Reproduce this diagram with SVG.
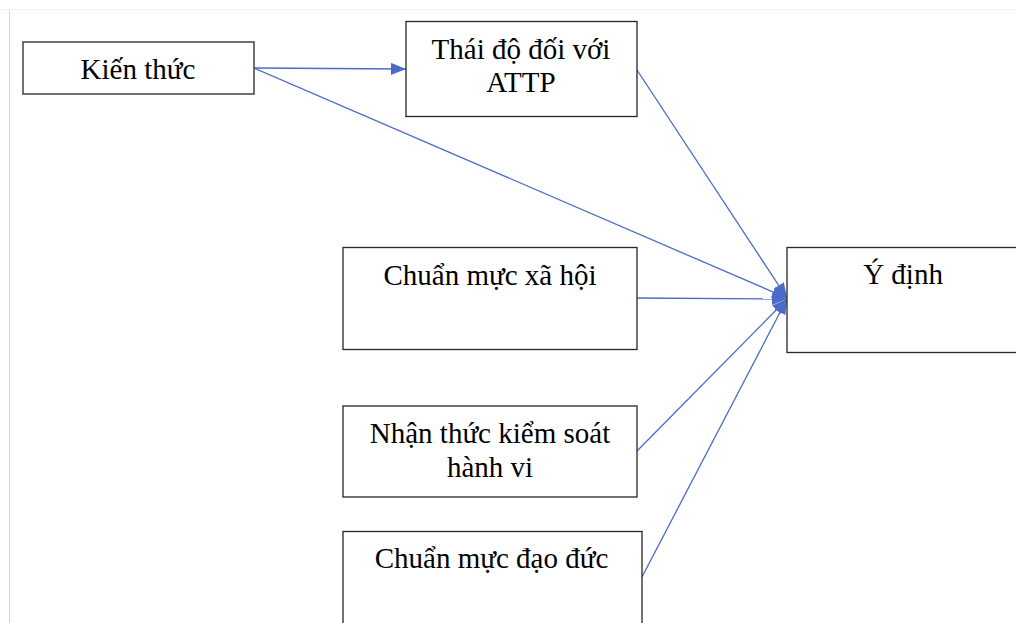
<svg xmlns="http://www.w3.org/2000/svg" width="1016" height="623" viewBox="0 0 1016 623">
<style>
.box{fill:#fff;stroke:#262626;stroke-width:1.3}
.t{font-family:"Liberation Serif","Times New Roman",serif;font-size:29px;fill:#000;text-anchor:middle}
.c{stroke:#4a6bc8;stroke-width:1.3;fill:none;marker-end:url(#ah)}
</style>
<defs>
<marker id="ah" markerWidth="15" markerHeight="12" refX="15" refY="6" orient="auto" markerUnits="userSpaceOnUse">
<path d="M0,0 L15,6 L0,12 Z" fill="#4a6bc8"/>
</marker>
</defs>
<rect width="1016" height="623" fill="#fff"/>
<line x1="0" y1="9.5" x2="1016" y2="9.5" stroke="#f2f2f2" stroke-width="1"/>
<line x1="9.5" y1="10" x2="9.5" y2="623" stroke="#d4d4d4" stroke-width="1"/>
<g id="connectors">
<line class="c" x1="254" y1="68" x2="406" y2="69"/>
<line class="c" x1="254" y1="68" x2="787" y2="298"/>
<line class="c" x1="637" y1="70" x2="787" y2="298"/>
<line class="c" x1="637" y1="298" x2="787" y2="299"/>
<line class="c" x1="637" y1="451" x2="787" y2="299"/>
<line class="c" x1="642" y1="577" x2="787" y2="299"/>
</g>
<g id="kienthuc">
<rect class="box" x="23" y="42" width="231" height="52"/>
<text class="t" x="138" y="79">Kiến thức</text>
</g>
<g id="thaido">
<rect class="box" x="406" y="21.5" width="231" height="95"/>
<text class="t" x="521" y="59">Thái độ đối với</text>
<text class="t" x="521" y="91.5">ATTP</text>
</g>
<g id="ydinh">
<rect class="box" x="787" y="247.5" width="240" height="105"/>
<text class="t" x="903" y="284">Ý định</text>
</g>
<g id="chuanmucxahoi">
<rect class="box" x="343" y="247.5" width="294" height="102"/>
<text class="t" x="490" y="285">Chuẩn mực xã hội</text>
</g>
<g id="nhanthuc">
<rect class="box" x="343" y="406" width="294" height="91"/>
<text class="t" x="490" y="443">Nhận thức kiểm soát</text>
<text class="t" x="490" y="477">hành vi</text>
</g>
<g id="chuanmucdaoduc">
<rect class="box" x="343" y="531.5" width="299" height="100"/>
<text class="t" x="491.5" y="568">Chuẩn mực đạo đức</text>
</g>
</svg>
